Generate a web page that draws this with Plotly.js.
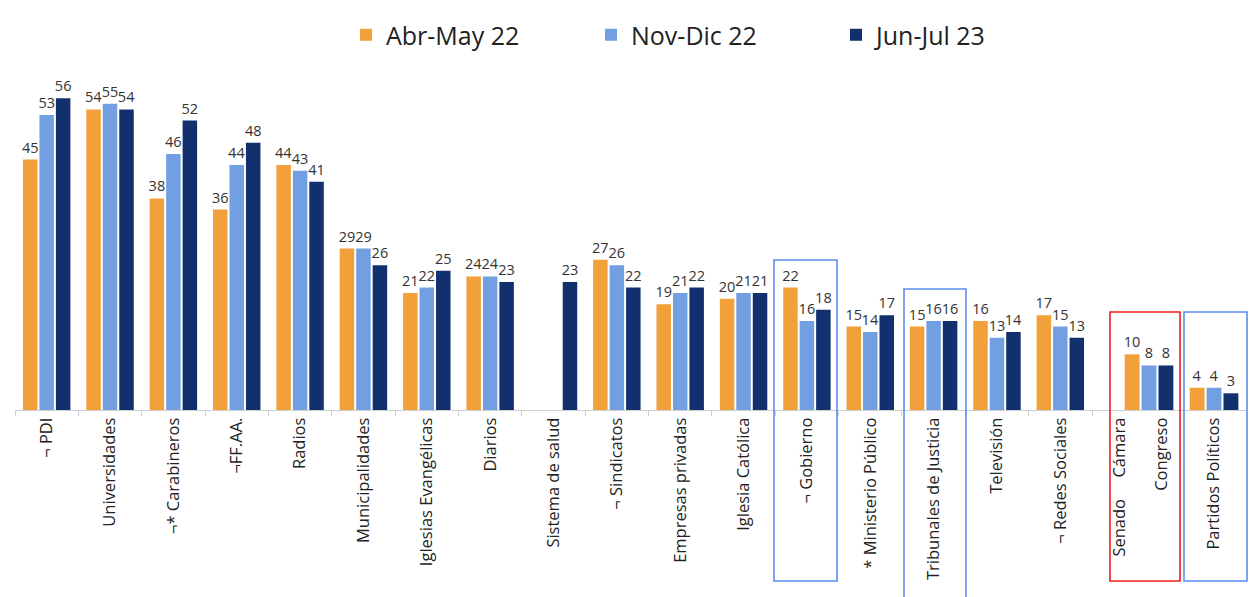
<!DOCTYPE html>
<html>
<head>
<meta charset="utf-8">
<script src="https://cdn.plot.ly/plotly-3.0.1.min.js"></script>
<style>html,body{margin:0;padding:0;background:#fff;}#chart{width:1249px;height:597px;}</style>
</head>
<body>
<div id="chart"></div>
<script>
// ---- data ----
const categories = ["PDI","Universidades","Carabineros","FF.AA.","Radios","Municipalidades",
  "Iglesias Evangélicas","Diarios","Sistema de salud","Sindicatos","Empresas privadas",
  "Iglesia Católica","Gobierno","Ministerio Público","Tribunales de Justicia","Televisión",
  "Redes Sociales","Senado/Cámara - Congreso","Partidos Políticos"];
const tickLabels = ["¬ PDI","Universidades","¬* Carabineros","¬FF.AA.","Radios","Municipalidades",
  "Iglesias Evangélicas","Diarios","Sistema de salud","¬ Sindicatos","Empresas privadas",
  "Iglesia Católica","¬ Gobierno","* Ministerio Público","Tribunales de Justicia","Televisión",
  "¬ Redes Sociales","Senado\u00a0\u00a0\u00a0\u00a0\u00a0Cámara","Partidos Políticos"];
const congresoLabel = "Congreso";
const seriesNames = ["Abr-May 22","Nov-Dic 22","Jun-Jul 23"];
const abrMay22 = [45,54,38,36,44,29,21,24,null,27,19,20,22,15,15,16,17,10,4];
const novDic22 = [53,55,46,44,43,29,22,24,null,26,21,21,16,14,16,13,15,8,4];
const junJul23 = [56,54,52,48,41,26,25,23,23,22,22,21,18,17,16,14,13,8,3];

// ---- styling / layout ----
const colors = ["#F2A03A","#729FE2","#13306E"];
const FONT = "Open Sans, Noto Sans, sans-serif";
const W = 1249, H = 597;
const M = {l:15, r:3, t:76, b:187};
const plotW = W - M.l - M.r, plotH = H - M.t - M.b;
const split = 17; // categories on the first axis
const d1 = (1092 - M.l) / plotW;
const x2range = [-0.877, 1.492];

const allSeries = [abrMay22, novDic22, junJul23];
const traces = [];
allSeries.forEach((vals, k) => {
  traces.push({
    type:"bar", name:seriesNames[k], x:categories.slice(0,split), y:vals.slice(0,split),
    xaxis:"x", yaxis:"y", marker:{color:colors[k]}, legendgroup:"g"+k,
    texttemplate:"%{y}", textposition:"outside", constraintext:"none", cliponaxis:false,
    textfont:{family:FONT, size:14.5, color:"#333"}, hoverinfo:"none"
  });
});
allSeries.forEach((vals, k) => {
  traces.push({
    type:"bar", name:seriesNames[k], x:categories.slice(split), y:vals.slice(split),
    xaxis:"x2", yaxis:"y", marker:{color:colors[k]}, legendgroup:"g"+k, showlegend:false,
    texttemplate:"%{y}", textposition:"outside", constraintext:"none", cliponaxis:false,
    textfont:{family:FONT, size:14.5, color:"#333"}, hoverinfo:"none"
  });
});

function px2x(px){ return (px - M.l) / plotW; }
function py2y(py){ return (H - M.b - py) / plotH; }
function box(x0,x1,y0,y1,color){
  return {type:"rect", xref:"paper", yref:"paper", x0:px2x(x0), x1:px2x(x1), y0:py2y(y1), y1:py2y(y0),
    line:{color:color, width:1.6}, fillcolor:"rgba(0,0,0,0)", layer:"above"};
}
const BLUE = "#5B8DEF", RED = "#F21A1A";

const axisCommon = {
  type:"category", showgrid:false, zeroline:false, showline:true, linecolor:"#cfcfcf", linewidth:1,
  tickangle:-90, tickfont:{family:FONT, size:16.5, color:"#222"}, fixedrange:true
};

const layout = {
  width:W, height:H, margin:M, paper_bgcolor:"#fff", plot_bgcolor:"#fff",
  font:{family:FONT, color:"#222"},
  barmode:"group", bargap:0.22, bargroupgap:0.12,
  showlegend:true,
  legend:{orientation:"h", x:px2x(346), xanchor:"left", y:py2y(35), yanchor:"middle",
    entrywidth:200, font:{family:FONT, size:25, color:"#222"}, bgcolor:"rgba(0,0,0,0)"},
  xaxis:Object.assign({}, axisCommon, {domain:[0,d1], range:[-0.5, split-0.5],
    tickmode:"array", tickvals:categories.slice(0,split), ticktext:tickLabels.slice(0,split),
    ticks:"outside", ticklen:5, tickcolor:"#d0d0d0", tickson:"boundaries"}),
  xaxis2:Object.assign({}, axisCommon, {domain:[d1,1], range:x2range, anchor:"y",
    tickmode:"array", tickvals:[-0.45, 0.2, 1],
    ticktext:[tickLabels[split], congresoLabel, tickLabels[split+1]], ticks:""}),
  yaxis:{range:[0,60], visible:false, fixedrange:true},
  shapes:[
    box(774,837,260,581,BLUE),
    box(904,966,289,600,BLUE),
    box(1110,1180,312,581,RED),
    box(1184,1247,312,581,BLUE)
  ]
};

Plotly.newPlot("chart", traces, layout, {displayModeBar:false, staticPlot:true});
</script>
</body>
</html>
